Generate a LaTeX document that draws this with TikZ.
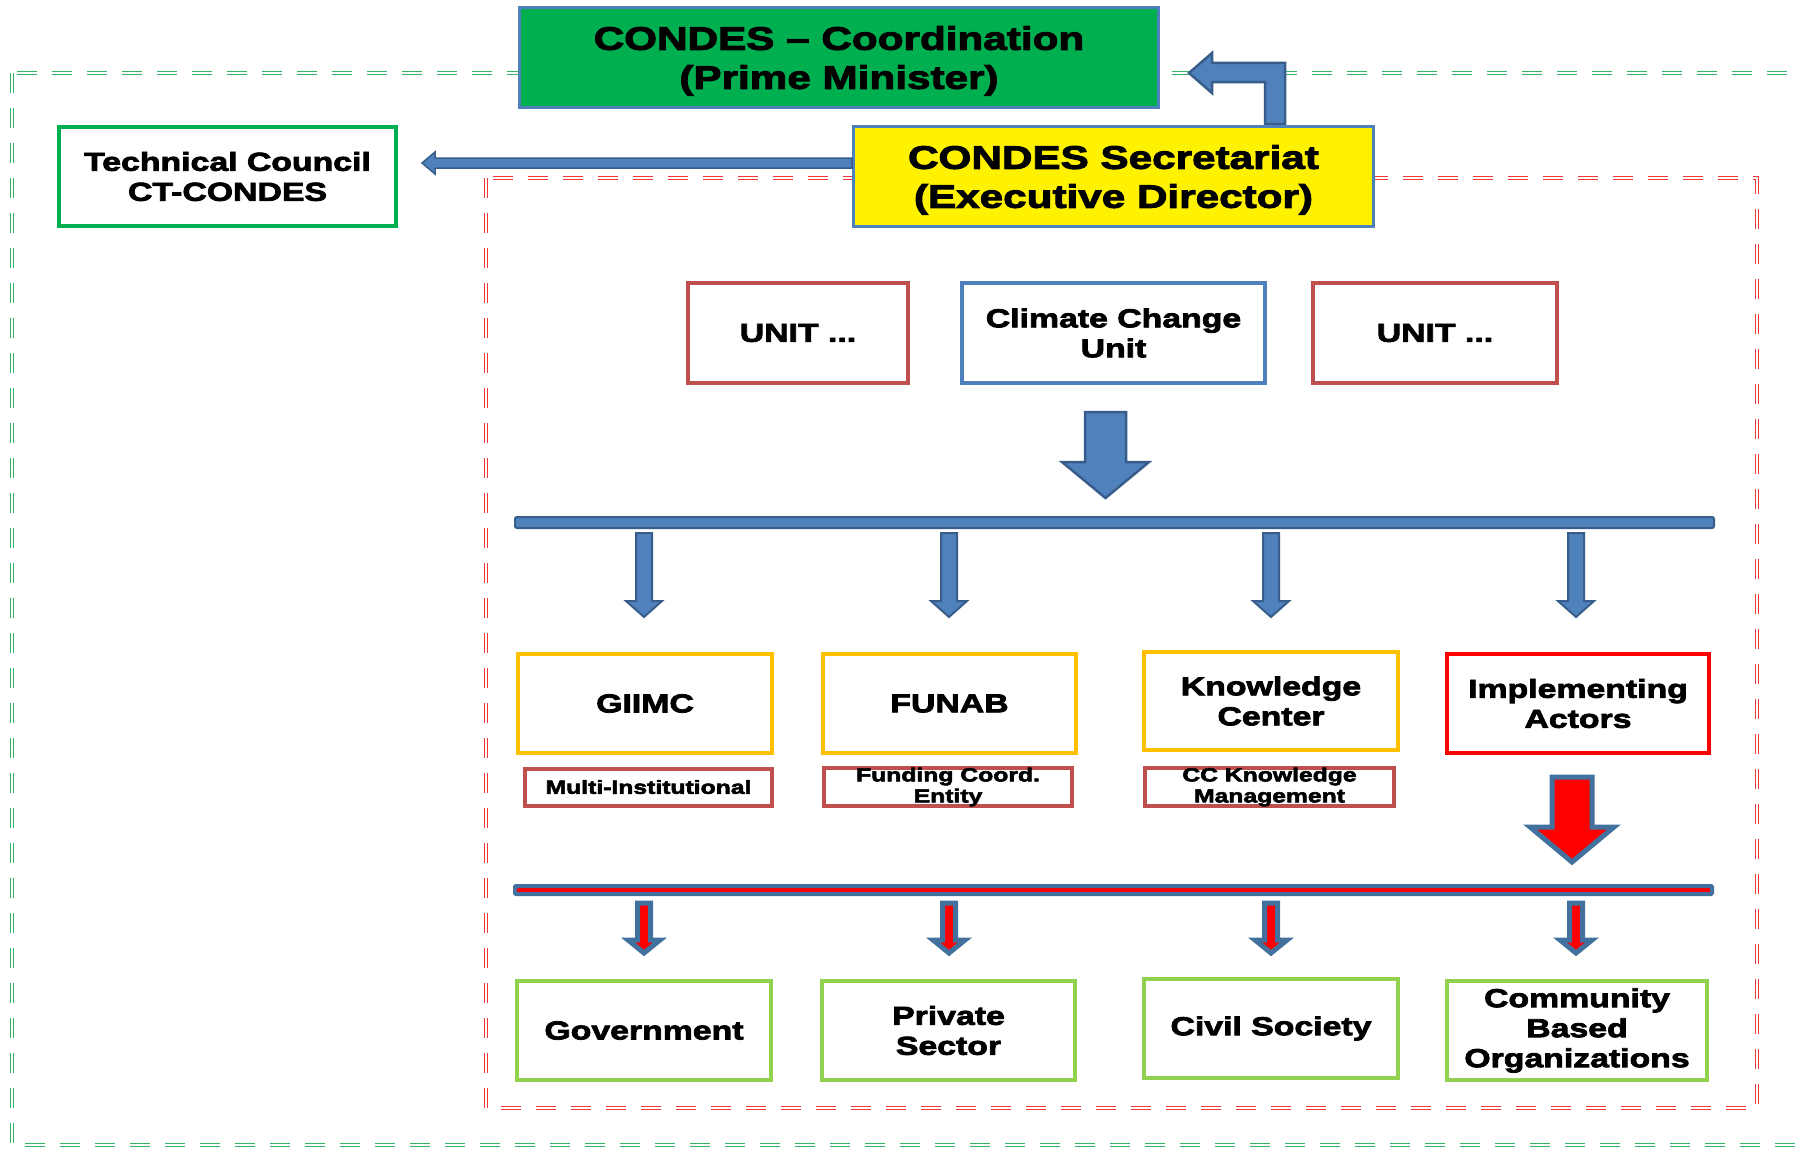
\documentclass[tikz,border=0pt]{standalone}
\usepackage{fontspec}
\setmainfont{Liberation Sans}[FakeStretch=1.3,BoldFeatures={FakeBold=3}]
\definecolor{cgreen}{HTML}{00B050}
\definecolor{cblue}{HTML}{4F81BD}
\definecolor{cblued}{HTML}{385D8A}
\definecolor{cbluee}{HTML}{41719C}
\definecolor{cbrick}{HTML}{C0504D}
\definecolor{cgold}{HTML}{FFC000}
\definecolor{clime}{HTML}{92D050}
\definecolor{dgreen}{RGB}{50,180,100}
\definecolor{dred}{RGB}{240,55,55}
\newcommand{\nodepth}[1]{\raisebox{0pt}[\height][0pt]{#1}}
\begin{document}
\begin{tikzpicture}[x=1pt,y=-1pt,
  box/.style={draw, line width=4pt, fill=white, inner sep=0pt, align=center, text=black,
    font=\bfseries\fontsize{26}{30}\selectfont},
  titlebox/.style={box, draw=cblue, line width=3pt, minimum height=100pt,
    font=\bfseries\fontsize{32.5}{39}\selectfont},
  subbox/.style={box, draw=cbrick, minimum height=37pt,
    font=\bfseries\fontsize{19}{21}\selectfont},
  dashframe/.style={line width=1.8pt, double=white, double distance=1.3pt, dash pattern=on 20pt off 15pt},
  bluearrow/.style={draw=cblued, fill=cblue, line width=2pt, line join=miter},
  redarrow/.style={draw=cbluee, fill=red, line width=5pt, line join=miter}
]
\useasboundingbox (0,0) rectangle (1798,1148);
\fill[white] (0,0) rectangle (1798,1148);
\clip (0,0) rectangle (1798,1148);

% dashed frames
\draw[dashframe, dgreen] (12,73) rectangle (1840,1145);
\draw[dashframe, dred] (486,178) rectangle (1757,1108);

% bent arrow
\draw[bluearrow, line width=2.5pt] (1265,124) -- (1265,82) -- (1212,82) -- (1212,93) -- (1189,73) -- (1212,53) -- (1212,63) -- (1285,63) -- (1285,124) -- cycle;

% top boxes
\node[titlebox, fill=cgreen, minimum width=639pt] (coord) at (839,57.5) {CONDES – Coordination\\\nodepth{(Prime Minister)}};
\node[titlebox, fill=yellow, minimum width=520pt] (sec) at (1113.5,176.5) {CONDES Secretariat\\\nodepth{(Executive Director)}};
\node[box, draw=cgreen, minimum width=337pt, minimum height=99pt] (tc) at (227.5,176.5) {Technical Council\\CT-CONDES};

\draw[bluearrow, line width=1.5pt] (sec.west |- 0,158) -- (435,158) -- (435,152) -- (422,163) -- (435,174) -- (435,168) -- (sec.west |- 0,168) -- cycle;

% unit row
\node[box, draw=cbrick, minimum width=220pt, minimum height=100pt] (unit1) at (798,333) {UNIT ...};
\node[box, draw=cblue, minimum width=303pt, minimum height=100pt] (ccu) at (1113.5,333) {Climate Change\\Unit};
\node[box, draw=cbrick, minimum width=244pt, minimum height=100pt] (unit2) at (1435,333) {UNIT ...};

% big blue arrow
\draw[bluearrow, line width=2.5pt] (1085,412) -- (1085,462) -- (1062,462) -- (1105.5,498) -- (1149,462) -- (1126,462) -- (1126,412) -- cycle;

% blue bar
\draw[bluearrow, line width=2pt, rounded corners=2pt] (515,517) rectangle (1714,528);

% small blue arrows
\foreach \cx in {644,949,1271,1576}{
  \draw[bluearrow] (\cx-8,533) -- (\cx-8,601) -- (\cx-18,601) -- (\cx,617) -- (\cx+18,601) -- (\cx+8,601) -- (\cx+8,533) -- cycle;
}

% middle row
\node[box, draw=cgold, minimum width=254pt, minimum height=99pt] (giimc) at (645,703.5) {GIIMC};
\node[box, draw=cgold, minimum width=253pt, minimum height=99pt] (funab) at (949.5,703.5) {FUNAB};
\node[box, draw=cgold, minimum width=254pt, minimum height=98pt] (kc) at (1271,701) {Knowledge\\Center};
\node[box, draw=red, minimum width=262pt, minimum height=99pt] (ia) at (1578,703.5) {Implementing\\Actors};

\node[subbox, minimum width=247pt] (multi) at (648.5,787) {Multi-Institutional};
\node[subbox, minimum width=248pt] (fce) at (948,787) {Funding Coord.\\Entity};
\node[subbox, minimum width=249pt] (cckm) at (1269.5,787) {CC Knowledge\\Management};

% big red arrow
\draw[redarrow] (1552,777) -- (1552,827) -- (1530,827) -- (1572,862) -- (1614,827) -- (1592,827) -- (1592,777) -- cycle;

% red bar
\draw[draw=cbluee, fill=red, line width=4pt, rounded corners=1pt] (515,886) rectangle (1712,894);

% small red arrows
\foreach \cx in {644,949,1271,1576}{
  \draw[redarrow] (\cx-6.5,903) -- (\cx-6.5,940) -- (\cx-16,940) -- (\cx,953) -- (\cx+16,940) -- (\cx+6.5,940) -- (\cx+6.5,903) -- cycle;
}

% bottom row
\node[box, draw=clime, minimum width=254pt, minimum height=99pt] (gov) at (644,1030.5) {Government};
\node[box, draw=clime, minimum width=253pt, minimum height=99pt] (priv) at (948.5,1030.5) {Private\\Sector};
\node[box, draw=clime, minimum width=254pt, minimum height=99pt] (civil) at (1271,1028.5) {Civil Society};
\node[box, draw=clime, minimum width=260pt, minimum height=99pt] (cbo) at (1577,1030.5) {Community\\Based\\Organizations};
\end{tikzpicture}
\end{document}
